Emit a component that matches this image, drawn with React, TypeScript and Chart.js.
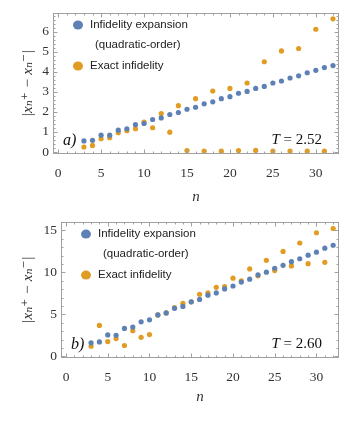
import React, { useEffect, useRef } from "react";
import { Chart, registerables } from "chart.js";

Chart.register(...registerables);

const nValues = [3, 4, 5, 6, 7, 8, 9, 10, 11, 12, 13, 14, 15, 16, 17, 18, 19, 20, 21, 22, 23, 24, 25, 26, 27, 28, 29, 30, 31, 32];

const expansionA = [0.55, 0.58, 0.84, 0.84, 1.09, 1.16, 1.36, 1.42, 1.62, 1.7, 1.87, 1.97, 2.13, 2.23, 2.4, 2.5, 2.66, 2.76, 2.93, 3.02, 3.17, 3.27, 3.44, 3.54, 3.69, 3.8, 3.95, 4.07, 4.21, 4.31];
const exactA = [0.25, 0.33, 0.66, 0.71, 0.96, 1.06, 1.16, 1.49, 1.21, 1.92, 0.99, 2.31, 0.07, 2.66, 0.05, 3.04, 0.04, 3.17, 0.07, 3.44, 0.08, 4.5, 0.05, 5.04, 0.05, 5.16, 0.04, 6.12, 0.04, 6.64];

const expansionB = [1.61, 1.72, 2.55, 2.51, 3.33, 3.49, 4.11, 4.35, 4.94, 5.17, 5.72, 5.95, 6.5, 6.78, 7.29, 7.56, 8.03, 8.38, 8.85, 9.2, 9.71, 10.03, 10.5, 10.85, 11.28, 11.63, 12.06, 12.42, 12.89, 13.24];
const exactB = [1.21, 3.68, 1.76, 2.12, 1.29, 3.06, 2.27, 2.59, 4.94, 5.17, 5.8, 6.31, 6.5, 7.4, 7.56, 8.23, 8.3, 9.32, 9.01, 10.42, 9.6, 11.44, 10.22, 12.5, 10.77, 13.51, 11.05, 14.73, 11.2, 15.24];

const xTickValues = [0, 5, 10, 15, 20, 25, 30];
const yTickValuesA = [0, 1, 2, 3, 4, 5, 6];
const yTickValuesB = [0, 5, 10, 15];

const legendLine1 = "Infidelity expansion";
const legendLine2 = "(quadratic-order)";
const legendLine3 = "Exact infidelity";
const xTitle = "n";
const yTitle = "|xₙ⁺ − xₙ⁻|";

const BLUE = "#5E81B5";
const ORANGE = "#E19C24";
const FRAME = "#a0a0a0";
const LABEL = "#333333";
const SERIF = "'Liberation Serif', 'DejaVu Serif', serif";
const SANS = "'Liberation Sans', Arial, sans-serif";

type PanelProps = {
  expansion: number[];
  exact: number[];
  yMin: number;
  yMax: number;
  yTicks: number[];
  yMajor: number;
  yMinor: number;
  panelLabel: string;
  tValue: string;
  top: number;
  height: number;
  padTop: number;
  yWidth: number;
  xHeight: number;
  xTitlePad: number;
};

function Panel(p: PanelProps) {
  const ref = useRef<HTMLCanvasElement | null>(null);
  useEffect(() => {
    if (!ref.current) return;
    const framePlugin = {
      id: "frame",
      afterDraw(chart: any) {
        const ctx = chart.ctx as CanvasRenderingContext2D;
        const a = chart.chartArea;
        const xs = chart.scales.x;
        const ys = chart.scales.y;
        ctx.save();
        ctx.strokeStyle = FRAME;
        ctx.lineWidth = 1;
        const L = Math.round(a.left) + 0.5;
        const R = Math.round(a.right) - 0.5;
        const T = Math.round(a.top) + 0.5;
        const B = Math.round(a.bottom) - 0.5;
        ctx.strokeRect(L, T, R - L, B - T);
        ctx.beginPath();
        for (let v = Math.ceil(xs.min); v <= xs.max; v++) {
          const len = v % 5 === 0 ? 4 : 2;
          const px = Math.round(xs.getPixelForValue(v)) + 0.5;
          ctx.moveTo(px, B);
          ctx.lineTo(px, B - len);
          ctx.moveTo(px, T);
          ctx.lineTo(px, T + len);
        }
        const ratio = Math.round(p.yMajor / p.yMinor);
        for (let k = Math.ceil(ys.min / p.yMinor); k * p.yMinor <= ys.max; k++) {
          const v = k * p.yMinor;
          const len = k % ratio === 0 ? 4 : 2;
          const py = Math.round(ys.getPixelForValue(v)) + 0.5;
          ctx.moveTo(L, py);
          ctx.lineTo(L + len, py);
          ctx.moveTo(R, py);
          ctx.lineTo(R - len, py);
        }
        ctx.stroke();

        // legend
        const lx = a.left + 25;
        ctx.textBaseline = "middle";
        ctx.textAlign = "left";
        ctx.font = `11.5px ${SANS}`;
        ctx.fillStyle = BLUE;
        ctx.beginPath();
        ctx.ellipse(lx, a.top + 12, 5, 4.5, 0, 0, Math.PI * 2);
        ctx.fill();
        ctx.fillStyle = ORANGE;
        ctx.beginPath();
        ctx.ellipse(lx, a.top + 53, 5, 4.5, 0, 0, Math.PI * 2);
        ctx.fill();
        ctx.fillStyle = "#222";
        ctx.fillText(legendLine1, lx + 12, a.top + 12);
        ctx.fillText(legendLine2, lx + 17, a.top + 31.5);
        ctx.fillText(legendLine3, lx + 12, a.top + 53);

        // panel label
        ctx.fillStyle = "#111";
        ctx.font = `italic 16px ${SERIF}`;
        ctx.fillText(p.panelLabel, a.left + 10, a.bottom - 13);

        // T label
        ctx.font = `15px ${SERIF}`;
        const rest = " = " + p.tValue;
        const restW = ctx.measureText(rest).width;
        ctx.textAlign = "right";
        ctx.fillText(rest, a.right - 17, a.bottom - 14);
        ctx.font = `italic 15px ${SERIF}`;
        ctx.fillText("T", a.right - 17 - restW, a.bottom - 14);
        ctx.restore();
      },
    };

    const chart = new Chart(ref.current, {
      type: "scatter",
      data: {
        datasets: [
          {
            label: legendLine1,
            data: nValues.map((n, i) => ({ x: n, y: p.expansion[i] })),
            backgroundColor: BLUE,
            borderWidth: 0,
            pointRadius: 2.6,
          },
          {
            label: legendLine3,
            data: nValues.map((n, i) => ({ x: n, y: p.exact[i] })),
            backgroundColor: ORANGE,
            borderWidth: 0,
            pointRadius: 2.6,
          },
        ],
      },
      options: {
        animation: false,
        responsive: false,
        maintainAspectRatio: false,
        layout: { padding: { top: p.padTop, right: 18, left: 0, bottom: 0 } },
        plugins: { legend: { display: false }, tooltip: { enabled: false } },
        scales: {
          x: {
            type: "linear",
            min: -0.6,
            max: 32.7,
            grid: { display: false, drawTicks: false },
            border: { display: false },
            afterBuildTicks: (s: any) => {
              s.ticks = xTickValues.map((v) => ({ value: v }));
            },
            afterFit: (s: any) => {
              s.height = p.xHeight;
            },
            ticks: {
              padding: 11,
              color: LABEL,
              font: { family: SERIF, size: 13.5 },
              maxRotation: 0,
            },
            title: {
              display: true,
              text: xTitle,
              color: LABEL,
              font: { family: SERIF, size: 15, style: "italic" },
              padding: { top: 0, bottom: p.xTitlePad },
            },
          },
          y: {
            type: "linear",
            min: p.yMin,
            max: p.yMax,
            grid: { display: false, drawTicks: false },
            border: { display: false },
            afterBuildTicks: (s: any) => {
              s.ticks = p.yTicks.map((v) => ({ value: v }));
            },
            afterFit: (s: any) => {
              s.width = p.yWidth;
            },
            ticks: {
              padding: 4,
              color: LABEL,
              font: { family: SERIF, size: 13.5 },
            },
            title: {
              display: true,
              text: yTitle,
              color: LABEL,
              font: { family: SERIF, size: 15, style: "italic" },
              padding: { top: 19, bottom: 0 },
            },
          },
        },
      },
      plugins: [framePlugin],
    } as any);
    return () => chart.destroy();
  }, []);
  return (
    <canvas
      ref={ref}
      width={357}
      height={p.height}
      style={{ position: "absolute", left: 0, top: p.top, width: 357, height: p.height }}
    />
  );
}

export default function App() {
  return (
    <div style={{ position: "fixed", left: 0, top: 0, width: 357, height: 421, background: "#fff" }}>
      <Panel
        expansion={expansionA}
        exact={exactA}
        yMin={-0.1}
        yMax={6.93}
        yTicks={yTickValuesA}
        yMajor={1}
        yMinor={0.2}
        panelLabel="a)"
        tValue="2.52"
        top={0}
        height={210}
        padTop={13}
        yWidth={53}
        xHeight={56}
        xTitlePad={4}
      />
      <Panel
        expansion={expansionB}
        exact={exactB}
        yMin={-0.2}
        yMax={16.0}
        yTicks={yTickValuesB}
        yMajor={5}
        yMinor={1}
        panelLabel="b)"
        tValue="2.60"
        top={210}
        height={211}
        padTop={10}
        yWidth={61}
        xHeight={63}
        xTitlePad={15}
      />
    </div>
  );
}
